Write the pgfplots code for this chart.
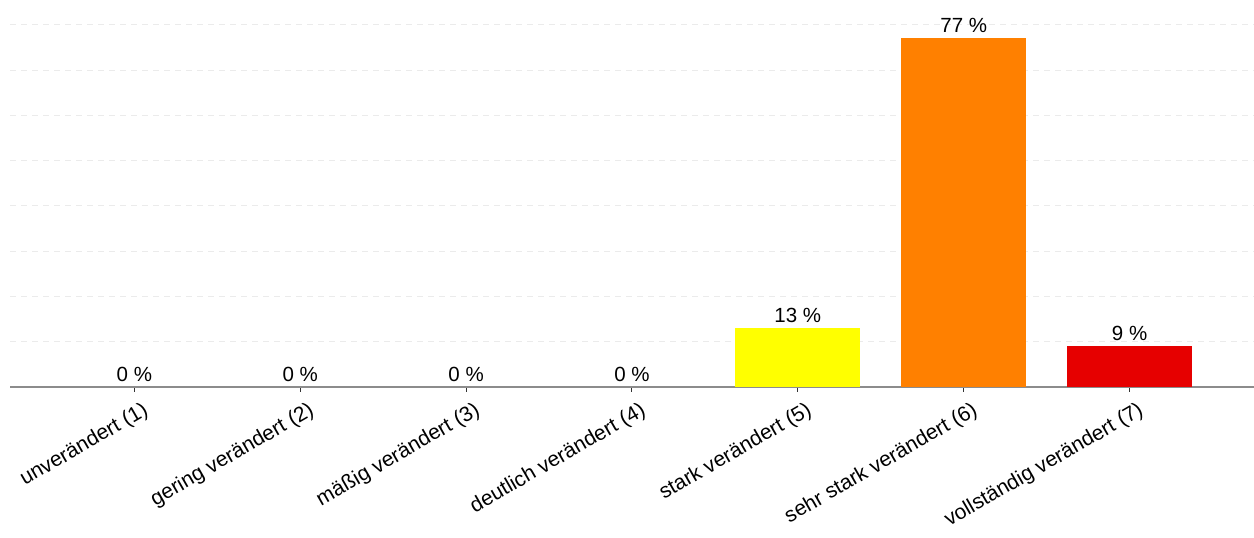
\documentclass[border=0pt]{standalone}
\usepackage{pgfplots}
\pgfplotsset{compat=1.18}
\usepackage{fontspec}
\setmainfont{Liberation Sans}
\definecolor{cyel}{HTML}{FFFF00}
\definecolor{corg}{HTML}{FF8000}
\definecolor{cred}{HTML}{E60000}
\begin{document}
\begin{tikzpicture}
\useasboundingbox (0,0) rectangle (1254pt,538pt);
\begin{axis}[
  at={(10pt,151pt)}, anchor=south west,
  scale only axis, width=1244pt, height=387pt,
  xmin=0.25, xmax=7.75, ymin=0, ymax=85.5,
  axis lines*=left,
  axis line style={-},
  x axis line style={draw=black!45, line width=1.2pt},
  y axis line style={draw=none},
  ytick={10,20,...,80}, yticklabels={},
  ytick style={draw=none},
  ymajorgrids=true,
  major grid style={dash pattern=on 6pt off 5pt, draw=black!8, line width=1pt},
  xtick={1,...,7},
  xticklabels={unverändert (1), gering verändert (2), mäßig verändert (3), deutlich verändert (4), stark verändert (5), sehr stark verändert (6), vollständig verändert (7)},
  x tick style={draw=black!80, line width=1pt},
  tick align=outside, major tick length=5pt,
  x tick label style={rotate=30, anchor=north east, font=\fontsize{21}{25}\selectfont, inner sep=2pt, xshift=4pt, yshift=-9pt},
  ybar, bar width=125pt, bar shift=0pt,
  /pgf/number format/assume math mode=true,
  nodes near coords={\pgfmathprintnumber{\pgfplotspointmeta}~\%},
  every node near coord/.append style={font=\fontsize{20.5}{24}\selectfont, text=black, anchor=south, yshift=2pt},
  clip=false,
]
\addplot[draw=none, fill=none] coordinates {(1,0) (2,0) (3,0) (4,0)};
\addplot[draw=none, fill=cyel] coordinates {(5,13)};
\addplot[draw=none, fill=corg] coordinates {(6,77)};
\addplot[draw=none, fill=cred] coordinates {(7,9)};
\end{axis}
\end{tikzpicture}
\end{document}
